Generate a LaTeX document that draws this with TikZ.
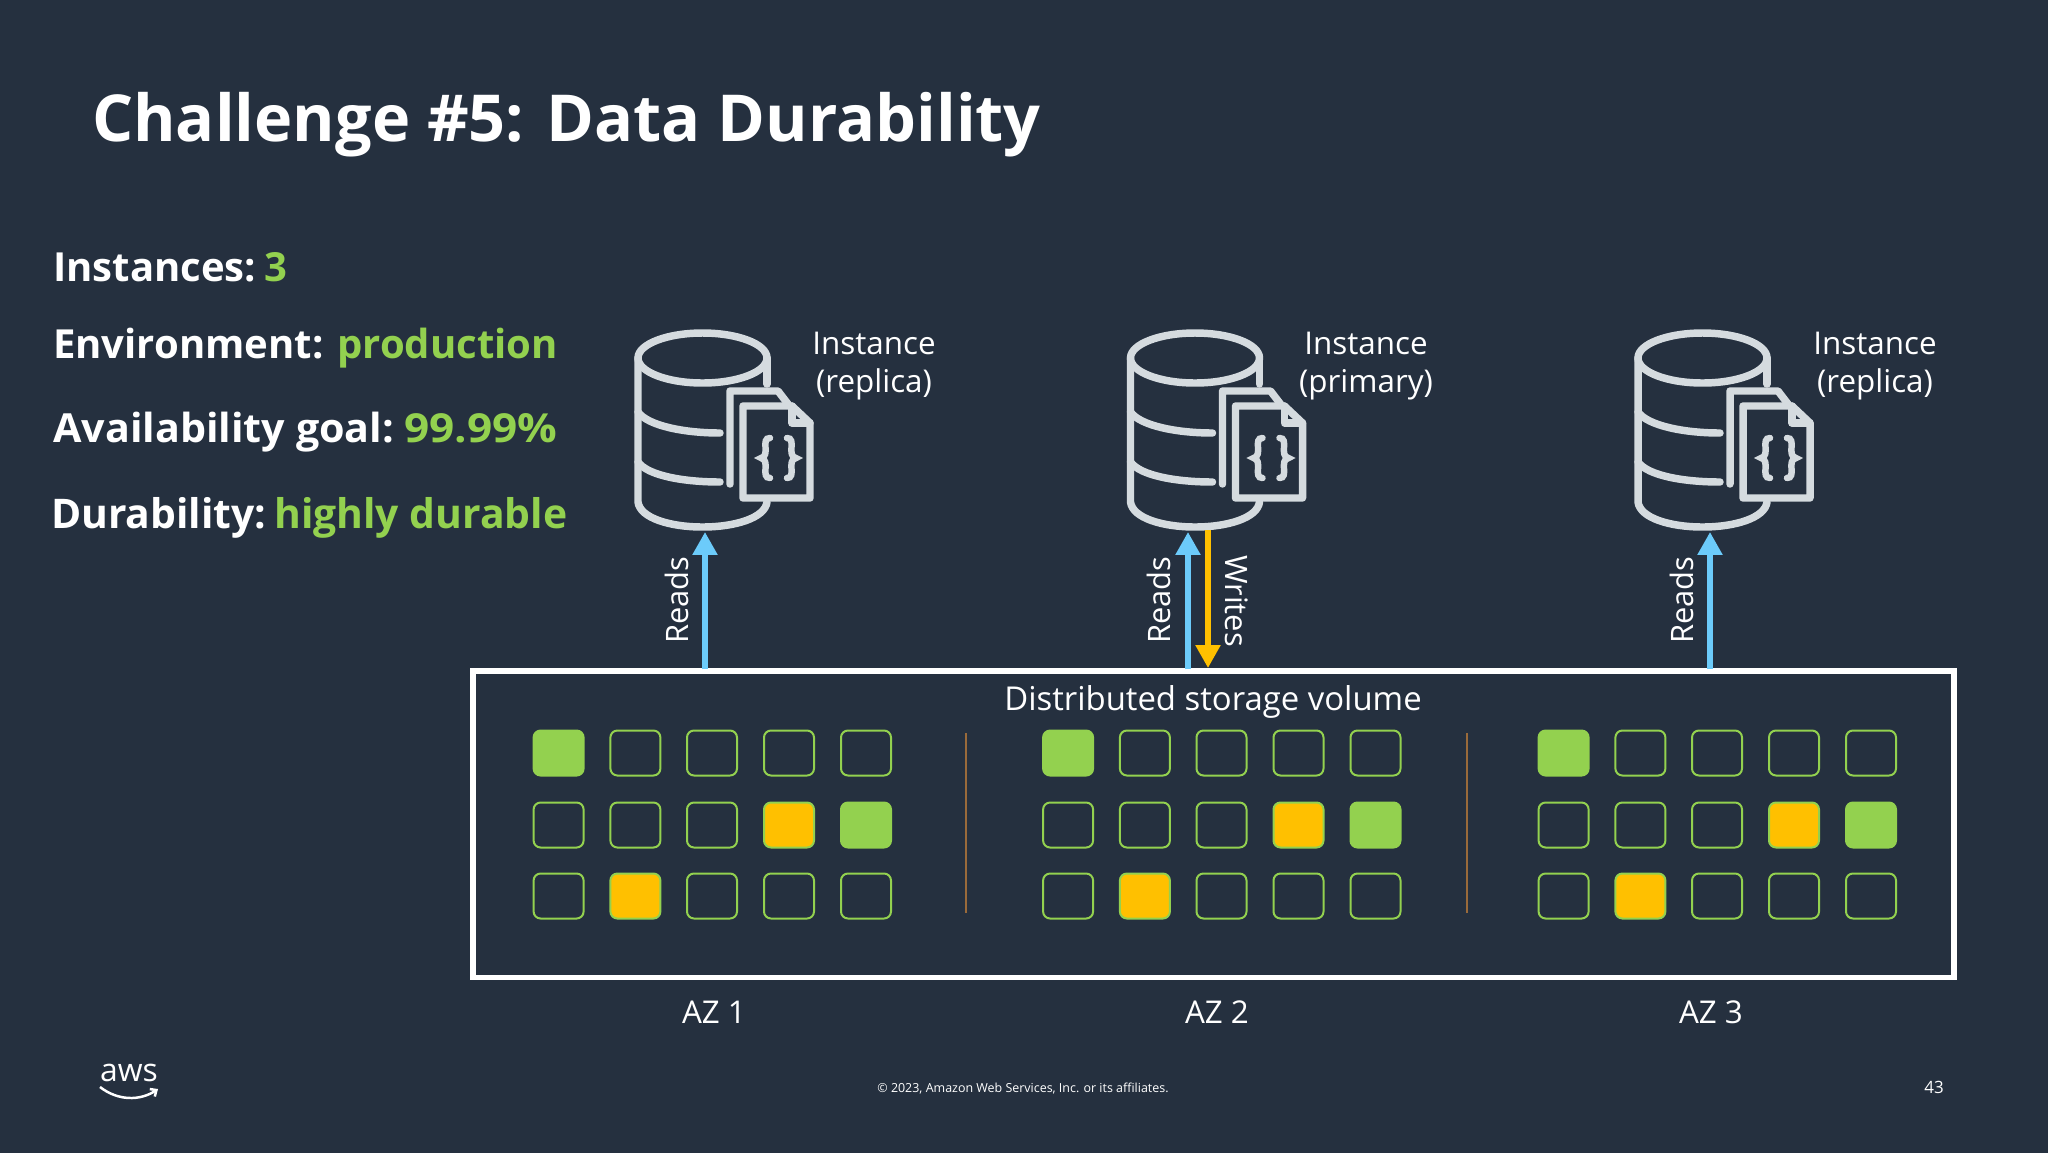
\documentclass[tikz,border=0pt]{standalone}
\usepackage{fontspec}
\setmainfont{Open Sans}
\usetikzlibrary{arrows.meta}
\definecolor{bg}{HTML}{25303F}
\definecolor{grn}{HTML}{93D14F}
\definecolor{yel}{HTML}{FFC000}
\definecolor{blu}{HTML}{6CCBFA}
\definecolor{ico}{HTML}{D5DBDF}
\definecolor{sep}{HTML}{9A6A3A}
\newcommand{\fs}[1]{\fontsize{#1}{#1}\selectfont}
\tikzset{
  lbl/.style={text=white,inner sep=0pt,align=center,font=\fs{31.5}},
  rot/.style={text=white,inner sep=0pt,font=\fs{31}},
  side/.style={text=white,inner sep=0pt,anchor=west,font=\fs{40.2}\bfseries},
  cell/.style={draw=grn,line width=2pt,rounded corners=7pt,minimum width=50bp,minimum height=45bp,inner sep=0pt},
  cellg/.style={cell,fill=grn},
  celly/.style={cell,fill=yel},
  rd/.style={draw=blu,line width=5.5pt,-{Triangle[length=23pt,width=24pt]}},
  wr/.style={draw=yel,line width=5.5pt,-{Triangle[length=23pt,width=24pt]}},
  icoline/.style={draw=ico,line width=7.5pt,line join=round,line cap=round},
  pics/dbicon/.style={code={
    \draw[icoline] (702.5,358) ellipse [x radius=64.5,y radius=25];
    \draw[icoline] (638,358) -- (638,502) .. controls (640,518) and (670,527) .. (702.5,527) .. controls (735,527) and (765,518) .. (767,502);
    \draw[icoline] (767,358) -- (767,384);
    \draw[icoline] (638,412) .. controls (648,426) and (685,433) .. (720,433);
    \draw[icoline] (638,462) .. controls (648,476) and (685,482) .. (720,482);
    \draw[icoline] (730,484) -- (730,391) -- (778,391) -- (788,404);
    \draw[icoline] (743,406) -- (792,406) -- (810,423) -- (810,498) -- (743,498) -- cycle;
    \draw[icoline] (792,406) -- (792,423) -- (810,423);
    \draw[draw=ico,line width=6.5pt,line cap=round] (770,438) .. controls (760,438) and (771,456) .. (761,458) .. controls (771,460) and (760,478) .. (770,478);
    \draw[draw=ico,line width=6.5pt,line cap=round] (787,438) .. controls (797,438) and (786,456) .. (796,458) .. controls (786,460) and (797,478) .. (787,478);
  }}
}
\begin{document}
\begin{tikzpicture}[x=1bp,y=-1bp]
\path[use as bounding box] (0,0) rectangle (2048,1152);
\fill[bg] (-5,-5) rectangle (2053,1157);
\node[text=white,inner sep=0pt,anchor=west,font=\fs{65}\bfseries] (title) at (92,125) {Challenge \#5: Data Durability};
\node[side] (s1) at (53,267) {Instances:\hspace*{-2pt} \textcolor{grn}{3}};
\node[side] (s2) at (53,348) {Environment: \textcolor{grn}{production}};
\node[side] (s3) at (53,432) {\scalebox{1.03}[1]{Availability goal:} \textcolor{grn}{\scalebox{1.1}[1]{99.99\%}}};
\node[side,font=\fs{41}\bfseries] (s4) at (51,518) {Durability:\hspace*{-3pt} \textcolor{grn}{highly durable}};

\pic (ia) at (0,0) {dbicon};
\pic (ib) at (492.5,0) {dbicon};
\pic (ic) at (1000,0) {dbicon};

\node[lbl] (la) at (874,366) {Instance\\[6pt](replica)};
\node[lbl] (lb) at (1366,366) {Instance\\[6pt](primary)};
\node[lbl] (lc) at (1875,366) {Instance\\[6pt](replica)};

\node[draw=white,line width=5.5pt,minimum width=1481bp,minimum height=306.5bp,inner sep=0pt] (vol) at (1213.5,824.25) {};
\node[lbl,font=\fs{33}] (voltxt) at (1213,702) {Distributed storage volume};

\foreach \az/\xo in {1/0,2/509.5,3/1005}{
  \foreach \c/\xc in {1/558.6,2/635.4,3/712,4/789,5/866}{
    \foreach \r/\yc in {1/753,2/825,3/896}{
      \pgfmathtruncatemacro{\key}{\r*10+\c}
      \def\st{cell}
      \ifnum\key=11 \def\st{cellg}\fi
      \ifnum\key=25 \def\st{cellg}\fi
      \ifnum\key=24 \def\st{celly}\fi
      \ifnum\key=32 \def\st{celly}\fi
      \node[\st] (c\az-\r-\c) at (\xc+\xo,\yc) {};
    }
  }
}
\coordinate (s1t) at (966,733); \coordinate (s1b) at (966,913);
\coordinate (s2t) at (1467,733); \coordinate (s2b) at (1467,913);
\draw[sep,line width=1.8pt] (s1t) -- (s1b);
\draw[sep,line width=1.8pt] (s2t) -- (s2b);

\coordinate (ta) at (705,532);
\coordinate (tb) at (1188,532);
\coordinate (tw) at (1208,530);
\coordinate (tc) at (1710,532);
\coordinate (wend) at (1208,668);
\draw[rd] (vol.north -| ta) ++(0,1) -- (ta);
\draw[rd] (vol.north -| tb) ++(0,1) -- (tb);
\draw[rd] (vol.north -| tc) ++(0,1) -- (tc);
\draw[wr] (tw) -- (wend);

\node[rot,rotate=90] (ra) at (677,600) {Reads};
\node[rot,rotate=90] (rb) at (1159,600) {Reads};
\node[rot,rotate=90] (rc) at (1682,600) {Reads};
\node[rot,rotate=-90] (wb) at (1237,601) {Writes};

\node[lbl] (az1) at (714,1012) {AZ 1};
\node[lbl] (az2) at (1217,1012) {AZ 2};
\node[lbl] (az3) at (1711,1012) {AZ 3};

\node[text=white,inner sep=0pt,font=\fs{12.5}] (copy) at (1023,1089) {© 2023, Amazon Web Services, Inc. or its affiliates.};
\node[text=white,inner sep=0pt,font=\fs{17}] (pg) at (1934,1087) {43};
\node[text=white,inner sep=0pt,font=\fs{32}] (aws) at (129,1073) {aws};
\coordinate (sm1) at (100,1087); \coordinate (sm2) at (158,1089);
\draw[white,line width=2.5pt,-{Straight Barb[length=5pt,width=9pt]}] (sm1) .. controls (118,1101) and (140,1101) .. (sm2);
\end{tikzpicture}
\end{document}
